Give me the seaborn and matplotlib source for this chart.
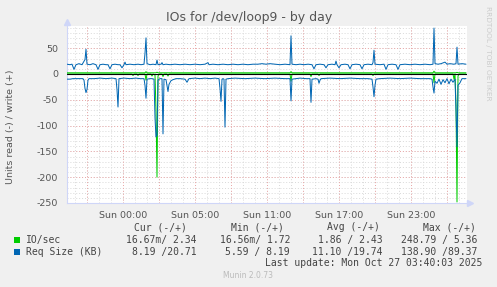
import numpy as np
import pandas as pd
import matplotlib
matplotlib.use("Agg")
import matplotlib.pyplot as plt
import seaborn as sns
from matplotlib.patches import Rectangle
from matplotlib.ticker import FixedLocator, FixedFormatter

# ---------------- data (5-minute samples since start of window) ----------------
req_write_s = [0, 3, 5, 7, 9, 12, 15, 18, 19, 20, 23, 26, 29, 31, 33, 36, 39, 41, 43, 45, 48, 51, 53, 55, 57, 58, 59,
               63, 67, 71, 74, 77, 78, 79, 80, 83, 86, 89, 90, 91, 94, 95, 96, 99, 103, 108, 113, 118, 123, 128, 133,
               138, 141, 142, 146, 151, 156, 161, 166, 171, 176, 181, 186, 191, 195, 199, 203, 208, 213, 218, 223, 224,
               225, 229, 233, 237, 241, 245, 247, 249, 253, 257, 259, 261, 265, 268, 269, 270, 272, 274, 278, 281, 283,
               285, 289, 293, 295, 297, 301, 305, 306, 307, 308, 313, 317, 319, 321, 325, 329, 331, 333, 338, 343, 348,
               353, 358, 363, 366, 367, 368, 371, 374, 378, 380, 383, 387, 389, 390, 391, 395, 399]
req_write_v = [19, 18, 19, 9, 18, 20, 18, 28, 48, 19, 18, 20, 18, 9, 18, 19, 18, 18, 10, 18, 19, 18, 18, 12, 18, 23, 18,
               19, 18, 19, 18, 19, 40, 70, 20, 18, 19, 18, 27, 18, 19, 22, 18, 19, 18, 19, 18, 19, 18, 19, 18,
               19, 22, 18, 19, 18, 19, 18, 19, 18, 19, 18, 19, 19, 20, 19, 20, 19, 18, 19, 18, 74,
               19, 18, 19, 18, 19, 18, 10, 18, 19, 18, 12, 18, 19, 18, 25, 18, 12, 18, 19, 18, 10,
               18, 19, 18, 10, 18, 19, 18, 22, 46, 19, 18, 19, 9, 18, 19, 18, 9, 18, 19, 18, 19,
               18, 19, 18, 19, 89, 20, 19, 20, 23, 19, 20, 19, 20, 52, 19, 20, 19]

req_read_s = [0, 3, 6, 11, 16, 17, 18, 19, 20, 21, 22, 27, 33, 39, 45, 49, 50, 51, 52, 57, 63, 69, 73, 77, 78, 79, 80,
              83, 85, 87, 88, 89, 90, 91, 93, 95, 96, 97, 99, 101, 102, 104, 106, 109, 113, 118, 120, 122, 128, 133,
              138, 143, 148, 152, 153, 154, 155, 156, 157, 158, 159, 161, 168, 178, 188, 198, 208, 218, 223, 224, 225,
              229, 233, 239, 243, 244, 245, 249, 251, 252, 253, 254, 263, 273, 283, 293, 301, 305, 306, 307, 308, 309,
              313, 323, 333, 343, 353, 363, 365, 366, 367, 368, 370, 372, 374, 376, 378, 380, 382, 384, 386, 388, 389,
              390, 391, 393, 395, 399]
req_read_v = [-10, -10, -9, -9, -9, -12, -28, -36, -30, -12, -9, -9, -8, -9, -8, -9, -30, -64, -9, -8, -9, -8, -9, -9,
              -22, -47, -10, -9, -9, -10, -85, -122, -118, -12, -9, -9, -116, -10, -11, -34, -20, -13, -11, -9, -9,
              -10, -16, -9, -8, -9, -8, -9, -8, -9, -28, -53, -10, -9, -10, -103, -10, -9, -8, -9, -8, -9, -8, -9,
              -9, -52, -10, -9, -8, -9, -9, -55, -10, -9, -10, -18, -12, -9, -8, -9, -8, -9, -9, -10, -25, -44, -22,
              -10, -9, -8, -9, -8, -9, -9, -10, -25, -37, -14, -18, -10, -20, -11, -17, -9, -19, -10, -16, -10, -70,
              -141, -22, -17, -9, -9]

io_write_s = [0, 78, 79, 80, 89, 90, 91, 223, 224, 225, 366, 367, 368, 389, 390, 391, 399]
io_write_v = [2.3, 2.3, 4.5, 2.3, 2.3, 3.5, 2.3, 2.3, 4.5, 2.3, 2.3, 5.4, 2.3, 2.3, 3.2, 2.3, 2.3]

io_read_s = [0, 65, 66, 67, 70, 71, 72, 78, 79, 80, 84, 85, 86, 88, 89, 90, 91, 92, 95, 96, 97, 100, 101, 102,
             223, 224, 225, 243, 244, 245, 251, 252, 253, 305, 306, 307, 366, 367, 368, 386, 387, 388, 389, 390,
             391, 392, 399]
io_read_v = [0.02, 0.02, -3, 0.02, 0.02, -3, 0.02, 0.02, -12, 0.02, 0.02, -4, 0.02, -2, -70, -200, -4, 0.02, 0.02,
             -5, 0.02, 0.02, -4, 0.02, 0.02, -14, 0.02, 0.02, -5, 0.02, 0.02, -3, 0.02, 0.02, -3, 0.02, 0.02, -17,
             0.02, 0.02, -10, 0.02, -60, -248, -4, 0.02, 0.02]

window_start_utc = "2025-10-25 17:20"
window_samples = 400
tick_times_utc = ["2025-10-25 22:00", "2025-10-26 04:00", "2025-10-26 10:00", "2025-10-26 16:00", "2025-10-26 22:00"]
tick_labels = ["Sun 00:00", "Sun 05:00", "Sun 11:00", "Sun 17:00", "Sun 23:00"]
y_ticks = [50, 0, -50, -100, -150, -200, -250]

legend_rows = [
    ("IO/sec", "#00CC00", ["16.67m/ 2.34", "16.56m/ 1.72", "1.86 / 2.43", "248.79 / 5.36"]),
    ("Req Size (KB)", "#0066B3", ["8.19 /20.71", "5.59 / 8.19", "11.10 /19.74", "138.90 /89.37"]),
]
legend_headers = ["Cur (-/+)", "Min (-/+)", "Avg (-/+)", "Max (-/+)"]

# ---------------- build long frame ----------------
frames = []
for metric, d, s, v in [("IO/sec", "write", io_write_s, io_write_v),
                        ("IO/sec", "read", io_read_s, io_read_v),
                        ("Req Size (KB)", "write", req_write_s, req_write_v),
                        ("Req Size (KB)", "read", req_read_s, req_read_v)]:
    frames.append(pd.DataFrame({"hours": np.array(s) / 12.0, "value": v, "metric": metric, "dir": d}))
df = pd.concat(frames, ignore_index=True)

start = pd.Timestamp(window_start_utc)
tick_pos = [(pd.Timestamp(t) - start) / pd.Timedelta(hours=1) for t in tick_times_utc]
span_h = window_samples / 12.0

# ---------------- figure ----------------
sns.set_theme(style="white")
plt.rcParams["font.family"] = ["DejaVu Sans"]
plt.rcParams["axes.unicode_minus"] = False

W, H = 497, 287
fig = plt.figure(figsize=(W / 100, H / 100), dpi=100, facecolor="#F0F0F0")
ax = fig.add_axes([67 / W, 1 - 203 / H, 400 / W, (203 - 26) / H])
ax.set_facecolor("white")

ax.set_xlim(0, span_h)
ax.set_ylim(-250, 93)

# grid
major_col = "#EBA8A8"
minor_col = "#D9D9D9"
dot = (0, (1, 2))
first_major = tick_pos[0] % 3
first_minor = tick_pos[0] % 1
for xm in np.arange(first_minor, span_h, 1.0):
    ax.axvline(xm, color=minor_col, lw=0.7, ls=dot, zorder=1)
for ym in range(-250, 93, 10):
    ax.axhline(ym, color=minor_col, lw=0.7, ls=dot, zorder=1)
for xm in np.arange(first_major, span_h, 3.0):
    ax.axvline(xm, color=major_col, lw=0.7, ls=dot, zorder=1.5)
for ym in y_ticks:
    ax.axhline(ym, color=major_col, lw=0.7, ls=dot, zorder=1.5)

sns.lineplot(data=df, x="hours", y="value", hue="metric", units="dir", estimator=None,
             hue_order=["IO/sec", "Req Size (KB)"],
             palette={"IO/sec": "#00CC00", "Req Size (KB)": "#0066B3"},
             linewidth=0.72, legend=False, sort=False, ax=ax, zorder=3)
ax.axhline(0, color="black", lw=0.8, zorder=5)

# axes styling
for sp in ["top", "right"]:
    ax.spines[sp].set_visible(False)
for sp in ["left", "bottom"]:
    ax.spines[sp].set_color("#CFD6F8")
    ax.spines[sp].set_linewidth(0.8)
ax.plot([1.0075], [0], marker=">", ms=4, color="#CFD6F8", transform=ax.transAxes, clip_on=False)
ax.plot([0], [1.02], marker="^", ms=4, color="#CFD6F8", transform=ax.transAxes, clip_on=False)

ax.xaxis.set_major_locator(FixedLocator(tick_pos))
ax.xaxis.set_major_formatter(FixedFormatter(tick_labels))
ax.yaxis.set_major_locator(FixedLocator(y_ticks))
ax.yaxis.set_major_formatter(FixedFormatter([str(t) for t in y_ticks]))
ax.tick_params(axis="both", labelsize=6.8, labelcolor="#555555", length=2, color=major_col, width=0.7)
ax.tick_params(axis="x", pad=4)
ax.tick_params(axis="y", pad=4.5)
ax.set_xlabel("")
ax.set_ylabel("")

# texts
fig.text(249 / W, 1 - 18 / H, "IOs for /dev/loop9 - by day", ha="center", va="center", fontsize=9, color="#555555")
fig.text(11 / W, 1 - 127 / H, "Units read (-) / write (+)", rotation=90, ha="center", va="center",
         fontsize=6.8, color="#555555")
fig.text(488 / W, 1 - 53 / H, "RRDTOOL / TOBI OETIKER", rotation=270, ha="center", va="center",
         fontsize=5.3, color="#CCCCCC")

mono = "DejaVu Sans Mono"
tc = "#444444"
hdr_x = [187, 284, 380, 476]
val_x = [197, 290, 383, 477]
for hx, h in zip(hdr_x, legend_headers):
    fig.text(hx / W, 1 - 227 / H, h, ha="right", va="center", family=mono, fontsize=7, color=tc)
for (name, col, vals), ry in zip(legend_rows, [240, 252]):
    fig.add_artist(Rectangle((14 / W, 1 - (ry + 3) / H), 6 / W, 6 / H, transform=fig.transFigure,
                             facecolor=col, edgecolor="none"))
    fig.text(26 / W, 1 - ry / H, name, ha="left", va="center", family=mono, fontsize=7, color=tc)
    for vx, v in zip(val_x, vals):
        fig.text(vx / W, 1 - ry / H, v, ha="right", va="center", family=mono, fontsize=7, color=tc)
fig.text(482 / W, 1 - 263 / H, "Last update: Mon Oct 27 03:40:03 2025", ha="right", va="center",
         family=mono, fontsize=7, color=tc)
fig.text(248 / W, 1 - 276 / H, "Munin 2.0.73", ha="center", va="center", fontsize=5.5, color="#BBBBBB")

fig.savefig("out.png", dpi=100, facecolor=fig.get_facecolor())
